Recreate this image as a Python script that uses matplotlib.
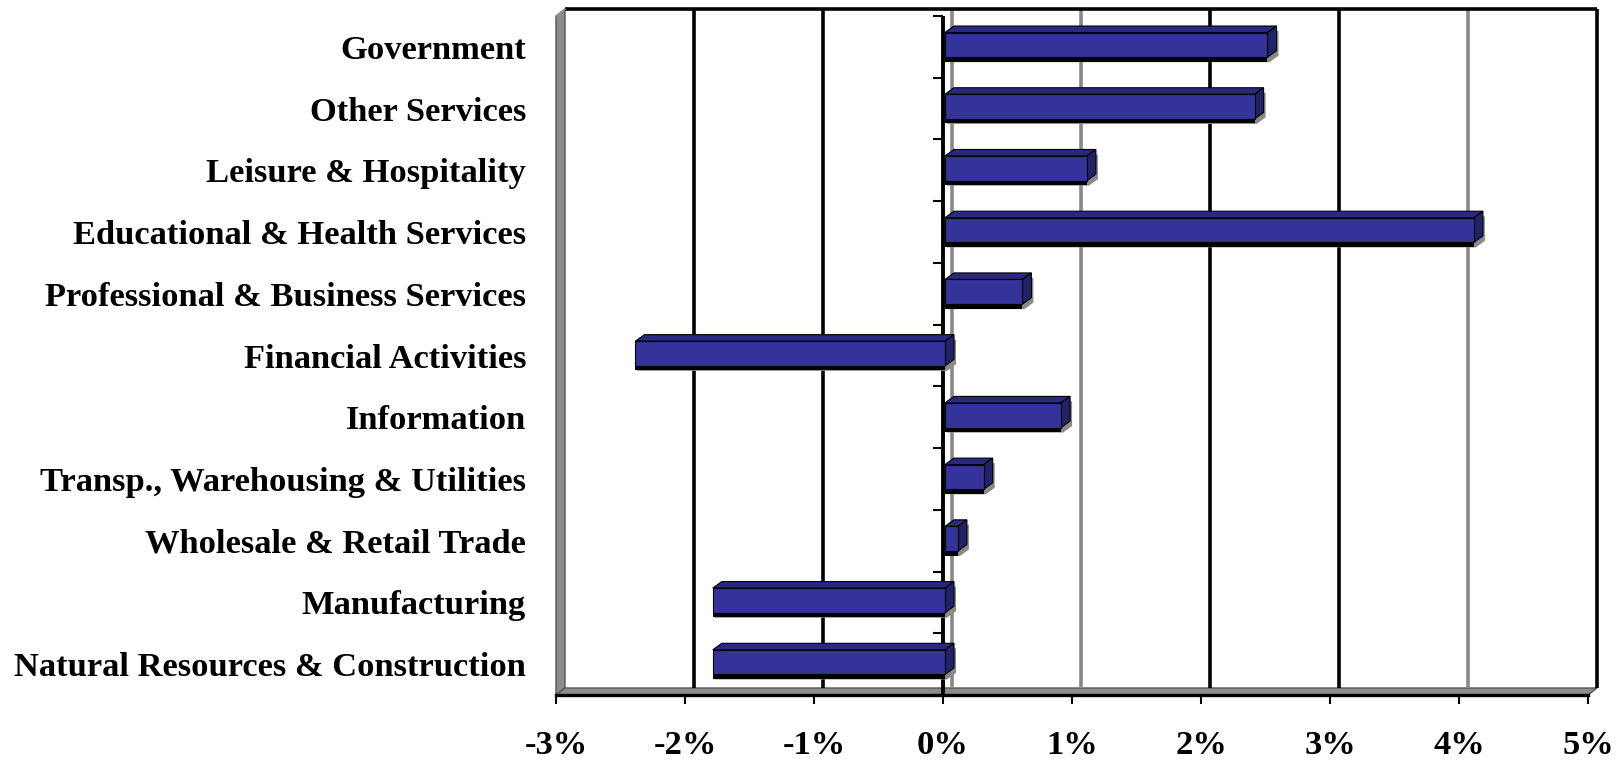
import numpy as np
import matplotlib.pyplot as plt
from matplotlib.patches import Polygon

# data, bottom to top as in the source chart
categories = ['Natural Resources & Construction', 'Manufacturing',
              'Wholesale & Retail Trade', 'Transp., Warehousing & Utilities',
              'Information', 'Financial Activities',
              'Professional & Business Services', 'Educational & Health Services',
              'Leisure & Hospitality', 'Other Services', 'Government']
growth = [-1.8, -1.8, 0.1, 0.3, 0.9, -2.4, 0.6, 4.1, 1.1, 2.4, 2.5]
x_ticks = [-3, -2, -1, 0, 1, 2, 3, 4, 5]
x_labels = ['-3%', '-2%', '-1%', '0%', '1%', '2%', '3%', '4%', '5%']

W, H, DPI = 1624, 762, 100
L, R, B, T = 556, 1588, 695, 16  # front plane of the plot, in pixels


def main():
    plt.rcParams['font.family'] = ['Liberation Serif', 'DejaVu Serif']
    plt.rcParams['font.weight'] = 'bold'

    fig = plt.figure(figsize=(W / DPI, H / DPI), dpi=DPI)
    ax = fig.add_axes([L / W, 1 - B / H, (R - L) / W, (B - T) / H])
    n = len(categories)
    xmin, xmax = x_ticks[0], x_ticks[-1]
    ylo, yhi = -0.5, n - 0.5
    ax.set_xlim(xmin, xmax)
    ax.set_ylim(ylo, yhi)

    # pixel -> data unit
    px = (xmax - xmin) / (R - L)
    py = (yhi - ylo) / (B - T)
    dx, dy = 9 * px, 7 * py  # depth of the 3d box

    draw_walls(ax, xmin, xmax, ylo, yhi, dx, dy)
    draw_value_axis(ax, ylo, yhi, px)
    draw_bars(ax, px, py)

    for s in ['top', 'right', 'left']:
        ax.spines[s].set_visible(False)
    ax.spines['bottom'].set_linewidth(2.4)
    ax.spines['bottom'].set_zorder(6)

    ax.set_xticks(x_ticks, x_labels)
    ax.set_yticks(range(n), categories)
    ax.tick_params(axis='x', direction='out', length=6.5, width=1.5,
                   pad=18.5, labelsize=24.8)
    ax.tick_params(axis='y', length=0, pad=21.6, labelsize=24.8)

    fig.savefig('out.png', dpi=DPI)


def draw_walls(ax, xmin, xmax, ylo, yhi, dx, dy):
    # left side wall
    ax.add_patch(Polygon([(xmin, ylo), (xmin, yhi), (xmin + dx, yhi + dy), (xmin + dx, ylo + dy)],
                         closed=True, facecolor='#8c8c8c', edgecolor='#555555',
                         lw=1, clip_on=False, zorder=1))
    # floor
    ax.add_patch(Polygon([(xmin, ylo), (xmax, ylo), (xmax + dx, ylo + dy), (xmin + dx, ylo + dy)],
                         closed=True, facecolor='#8c8c8c', edgecolor='#555555',
                         lw=1, clip_on=False, zorder=1))
    # back wall gridlines
    grid_colors = ['#777777', 'black', 'black', '#888888', '#888888',
                   'black', 'black', '#888888', 'black']
    for t, c in zip(x_ticks, grid_colors):
        if t == xmin:
            continue
        ax.plot([t + dx, t + dx], [ylo + dy, yhi + dy], color=c, lw=2.6,
                solid_capstyle='butt', clip_on=False, zorder=1.5)
    # top edge of back wall
    ax.plot([xmin + dx, xmax + dx], [yhi + dy, yhi + dy], color='black', lw=2.6,
            solid_capstyle='butt', clip_on=False, zorder=1.5)
    ax.plot([xmin, xmin + dx], [yhi, yhi + dy], color='#999999', lw=1,
            clip_on=False, zorder=1.5)


def draw_value_axis(ax, ylo, yhi, px):
    # category axis crossing at 0 on the front plane
    ax.plot([0, 0], [ylo, yhi], color='black', lw=2.8, solid_capstyle='butt',
            clip_on=False, zorder=2)
    for b in np.arange(ylo, yhi + 0.01, 1.0):
        ax.plot([-10 * px, 0], [b, b], color='black', lw=1.5,
                solid_capstyle='butt', clip_on=False, zorder=2)


def draw_bars(ax, px, py):
    h = 0.4
    sx, sy = 2 * px, 2 * py          # front face sits a little inside the box
    bx, by = 9 * px, 6.5 * py        # bar depth
    front, top, side = '#333399', '#29297d', '#222268'
    for i, v in enumerate(growth):
        x0 = min(0, v) + sx
        x1 = max(0, v) + sx
        y0 = i - h / 2 + sy
        y1 = i + h / 2 + sy
        # soft gray shadow
        shx, shy = 2 * px, -5 * py
        sil = [(x0, y0), (x1, y0), (x1 + bx, y0 + by), (x1 + bx, y1 + by),
               (x0 + bx, y1 + by), (x0, y1)]
        ax.add_patch(Polygon([(a + shx, b + shy) for a, b in sil], closed=True,
                             facecolor='#8a8a8a', edgecolor='none', zorder=3))
        # dark underside
        ax.add_patch(Polygon([(x0, y0 - 4.5 * py), (x1, y0 - 4.5 * py), (x1, y0), (x0, y0)],
                             closed=True, facecolor='black', edgecolor='none', zorder=3.5))
        # top face
        ax.add_patch(Polygon([(x0, y1), (x1, y1), (x1 + bx, y1 + by), (x0 + bx, y1 + by)],
                             closed=True, facecolor=top, edgecolor='black', lw=0.8, zorder=4))
        # side face
        ax.add_patch(Polygon([(x1, y0), (x1 + bx, y0 + by), (x1 + bx, y1 + by), (x1, y1)],
                             closed=True, facecolor=side, edgecolor='black', lw=0.8, zorder=4))
    # front faces
    ax.barh(np.arange(len(growth)) + sy, growth, height=h, left=sx,
            color=front, edgecolor='black', linewidth=0.8, zorder=5)


if __name__ == "__main__":
    main()
